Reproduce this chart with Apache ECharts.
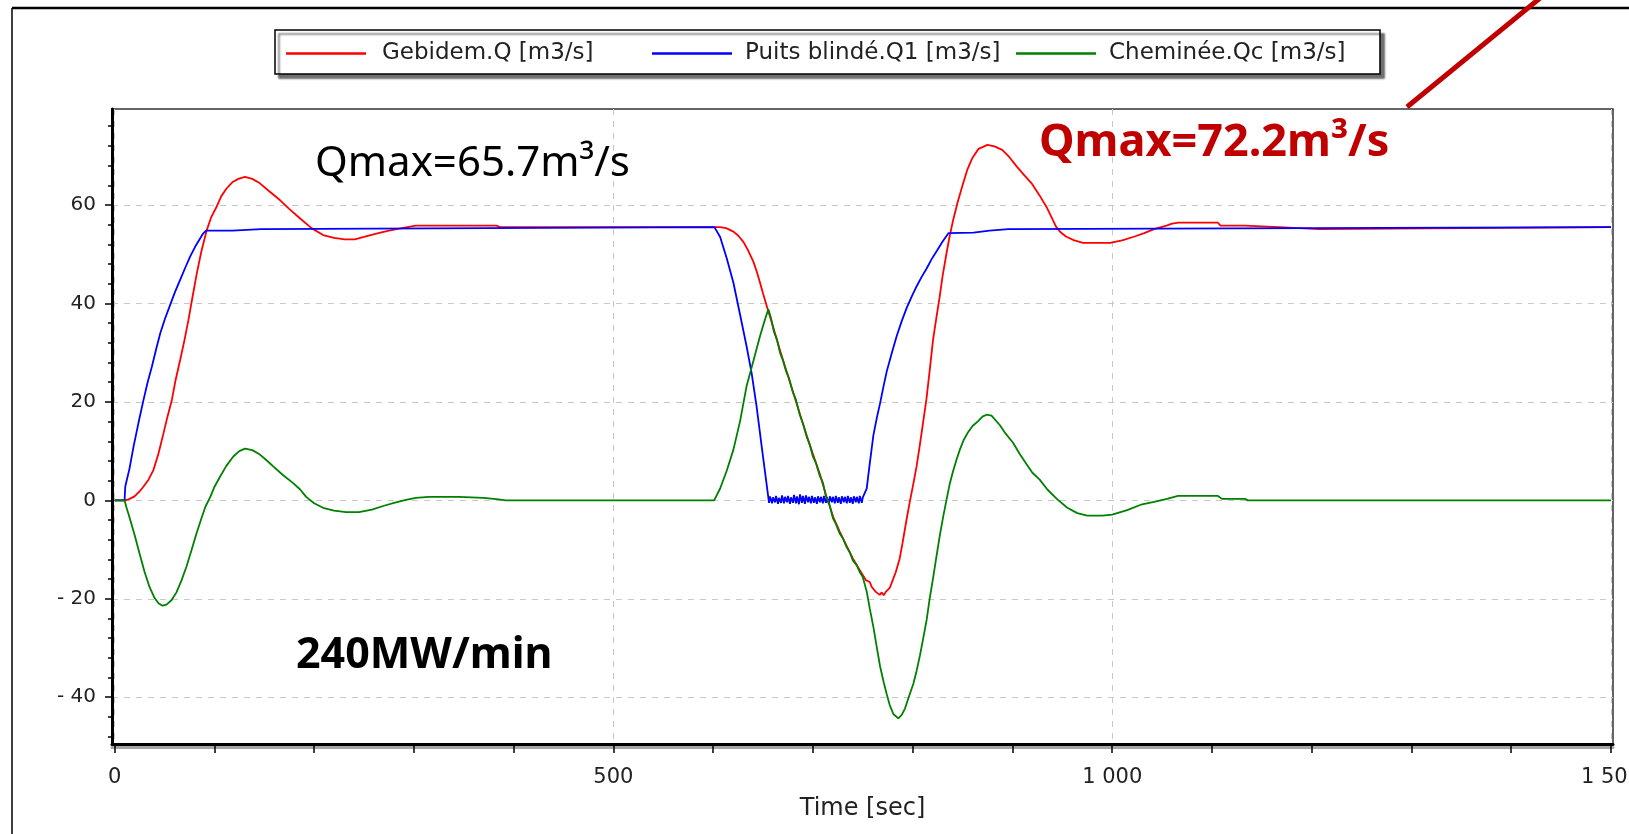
<!DOCTYPE html>
<html>
<head>
<meta charset="utf-8">
<title>Gebidem / Puits blindé / Cheminée</title>
<script src="https://cdn.jsdelivr.net/npm/echarts@6/dist/echarts.min.js"></script>
<style>
  html, body { margin: 0; padding: 0; background: #fff; overflow: hidden; }
  /* the drawing is a little wider than the window so the last time label runs off the edge */
  #chart { width: 1680px; height: 834px; }
</style>
</head>
<body>
<div id="chart"></div>
<script>
// Flow time histories, [time in s, flow in m3/s]
const gebidemQ = [
  [0,0],[10,0],[14,0.2],[20,0.8],[25,1.8],[29,2.8],[34,4.2],[39,6.2],[44,9.5],[49,13.6],[53,17],
  [57.4,20.4],[61,24.3],[65.7,28.5],[70,32.5],[74,36.6],[78,41.2],[82.4,46.1],[87,50.6],[92.4,54.9],
  [97,57.6],[102.4,59.7],[107,61.8],[112.4,63.4],[118,64.6],[124,65.3],[130.7,65.7],[138,65.3],
  [145.7,64.4],[155,62.8],[165.7,61.0],[175,59.2],[185.7,57.3],[197.4,55.3],[209,53.9],[220,53.3],
  [230.7,53.0],[240.7,53.0],[250,53.5],[262.4,54.2],[275,54.8],[290.7,55.4],[302,55.8],[383,55.8],
  [386,55.5],[601,55.5],[607,55.5],[613,55.3],[620.3,54.6],[625,53.8],[630.3,52.5],[635,50.8],
  [640.3,48.5],[644,46.3],[647,44.2],[650,42],[653.7,39.5],[660,35.3],[667,30.5],[673,26.6],
  [680.4,21.8],[687,17.5],[693.7,13.2],[700,9.4],[707,5.3],[713,1.2],[720.4,-3.4],[727,-6.4],
  [733.7,-9.2],[740,-11.8],[747,-14.2],[753,-16.2],[757,-16.6],[759,-17.6],[761,-17.4],[763,-18.6],
  [765,-18.2],[767,-19.2],[769,-18.7],[771,-19.3],[773,-18.6],[775,-18.9],[777,-17.8],[780,-16.2],
  [783,-14.6],[787,-11.8],[790,-8.5],[793.7,-4.1],[797,-0.4],[800.4,3.1],[804,7],[807,11.0],
  [810,15.2],[813.7,20.4],[817,26.3],[820.4,32.6],[824,37.4],[827,41.3],[830,45.6],[834,50.3],
  [837,53.6],[840.4,56.8],[845,60.5],[850,64],[855,67.3],[860,69.6],[866,71.4],[875,72.2],
  [882,71.9],[889.7,71.2],[897,69.7],[904.4,67.8],[912,66],[919.2,64.4],[927,62],[933.9,59.7],
  [939,57.6],[943.7,55.6],[948,54.5],[953.6,53.6],[962,52.8],[970.8,52.3],[998,52.3],[1010,52.8],
  [1022.4,53.6],[1032,54.3],[1042,55.1],[1054.4,55.8],[1060,56.2],[1066.6,56.4],[1106,56.4],
  [1108.5,55.8],[1133,55.8],[1135,55.5],[1167,55.5],[1168,55.1],[1207,55.1],[1208,55.5],[1500,55.5]
];

const puitsBlindeQ1 = [
  [0,0],[10,0],[10.7,2.8],[15,6.5],[19,10.9],[24,15.8],[29,20.4],[33,23.9],[37.4,27.2],[41.5,30.6],
  [45.7,33.9],[50.5,36.9],[55.7,39.7],[60.7,42.4],[65.7,44.8],[70.7,47.2],[75.7,49.5],[80.7,51.5],
  [85.7,53.2],[88.7,54.2],[91.7,54.8],[118,54.8],[119,55.1],[147,55.1],[148,55.5],[601.3,55.5],
  [607,53.5],[613.6,49.2],[620.3,44.2],[627,37.7],[633.6,31.2],[638.6,25.8],[643.6,19.0],
  [648.6,11.0],[653.7,3.1],[656,-0.5],[657,0.8],[659,-0.6],[660,0.6],[662,-0.4],[663,0.9],
  [665,-0.7],[666,0.5],[668,-0.5],[669,1.0],[671,-0.6],[672,0.7],[674,-0.4],[675,0.9],[677,-0.7],
  [678,0.6],[680,-0.5],[681,1.1],[683,-0.6],[684,0.8],[686,-0.8],[687,1.2],[689,-0.5],[690,0.9],
  [692,-0.7],[693,1.0],[695,-0.4],[696,0.7],[698,-0.6],[699,0.9],[701,-0.5],[702,0.6],[704,-0.7],
  [705,0.8],[707,-0.4],[708,0.7],[710,-0.6],[711,0.9],[713,-0.5],[714,0.6],[716,-0.7],[717,0.8],
  [719,-0.4],[720,0.7],[722,-0.6],[723,0.9],[725,-0.5],[726,0.6],[728,-0.7],[729,0.8],[731,-0.4],
  [732,0.7],[734,-0.6],[735,0.9],[737,-0.5],[738,0.6],[740,-0.7],[741,0.8],[743,-0.4],[744,0.7],
  [746,-0.6],[747,0.9],[749,-0.5],[750,0.6],[751.5,0.3],[753.9,2.4],[757,7.5],[760.6,13.2],
  [764,16.7],[767.3,19.7],[770.6,23],[774,26.2],[779,29.9],[784,33.4],[789,36.4],[794,39.1],
  [799,41.4],[804,43.5],[809,45.4],[814,47.1],[819,49],[824.3,50.7],[830,52.6],[836,54.3],
  [861,54.4],[862,54.8],[877,54.8],[878,55.1],[896,55.1],[897,55.5],[1500,55.5]
];

const chemineeQc = [
  [0,0],[10,0],[12,-1.5],[15,-3.5],[20,-7],[25,-10.8],[30,-14.5],[35,-17.6],[40,-19.8],[44,-20.9],
  [48,-21.4],[52,-21.2],[57,-20.3],[62,-18.7],[67,-16.3],[72,-13.5],[77,-10.2],[82,-6.8],[87,-3.7],
  [91,-1.3],[95.7,0.6],[100,2.7],[105.7,4.8],[112,7],[119,8.9],[125,10],[130.7,10.5],[138,10.2],
  [145.7,9.3],[152,8.2],[159,6.9],[169,5.1],[179,3.5],[186,2.2],[192,0.7],[200,-0.6],[210,-1.6],
  [220,-2.1],[232,-2.4],[245,-2.4],[258,-1.9],[270,-1.1],[282,-0.4],[292,0.1],[302,0.5],[315,0.7],
  [345,0.7],[370,0.5],[385,0.2],[392,0],[601,0],[607,2.4],[613.6,6.0],[620.3,10.3],[627,16.1],
  [633.6,23.3],[640.3,28.3],[647,33.4],[652,36.8],[655.3,38.8],[658,37.0],[661,34.2],[664,32.6],
  [667,30.0],[670,28.4],[673,26.3],[676,24.8],[680,21.9],[683,20.4],[687,17.3],[690,15.6],
  [694,12.8],[697,11.2],[700,8.9],[703,7.6],[707,4.9],[710,3.6],[713,0.8],[716,-0.4],[720,-3.6],
  [723,-4.8],[727,-6.8],[730,-7.7],[734,-9.6],[737,-10.6],[740,-12.2],[744,-13.2],[747,-14.6],
  [750,-15.6],[753.9,-18.5],[757,-22],[760.6,-25.7],[764,-29.8],[767.3,-33.7],[771,-37],
  [774,-39.4],[777,-41.6],[780.6,-43.4],[785.6,-44.3],[789,-43.6],[792.3,-42.3],[796,-40],
  [800.6,-37.3],[804,-34.6],[807.3,-31.5],[810.6,-28],[814,-24.3],[817,-20],[820.6,-15.6],
  [824,-11.2],[827.3,-7.0],[830.6,-3.3],[834,0.2],[837,3.2],[840.6,6.0],[844,8.3],[847.3,10.3],
  [851,12.2],[855.7,13.9],[860,15.1],[865.6,16.1],[870,17],[874,17.4],[879,17.2],[887.3,15.3],
  [893,13.6],[900.6,11.7],[907,9.5],[914,7.4],[920,5.6],[927.3,4.2],[935,2.2],[945,0.2],
  [955,-1.5],[965,-2.6],[975,-3.1],[990,-3.1],[1000,-2.9],[1015,-2.0],[1030,-0.8],[1042,-0.3],
  [1055,0.3],[1066,0.9],[1106,0.9],[1110,0.3],[1133,0.3],[1136,0],[1500,0]
];

const seriesNames = ['Gebidem.Q [m3/s]', 'Puits blindé.Q1 [m3/s]', 'Cheminée.Qc [m3/s]'];
const seriesColors = ['#ff0000', '#0000ff', '#008000'];

// Axis extents and tick positions
const timeRange = [-2.6, 1502];
const flowRange = [-49.5, 79.5];
const timeLabelTicks = [0, 500, 1000, 1500];
const timeMinorTicks = [0,100,200,300,400,500,600,700,800,900,1000,1100,1200,1300,1400,1500];
const flowLabelTicks = [-40, -20, 0, 20, 40, 60];
const flowMinorTicks = [-48,-44,-40,-36,-32,-28,-24,-20,-16,-12,-8,-4,0,4,8,12,16,20,24,28,32,36,40,44,48,52,56,60,64,68,72,76];

const axisFont = 'DejaVu Sans';
const chart = echarts.init(document.getElementById('chart'), null, { renderer: 'canvas' });

const fmtTime = v => String(v).replace(/\B(?=(\d{3})+(?!\d))/g, ' ');
const fmtFlow = v => (v < 0 ? '- ' + (-v) : String(v));

const gridDash = { color: '#c8c8c8', type: [6, 6], width: 1 };

// legend entries keep fixed slot widths so the three entries sit where they belong
const legendSlots = [270, 271, 243];
const slotStyle = (w, padLeft) => ({
  width: w, padding: [0, 0, 0, padLeft], backgroundColor: '#fff',
  fontFamily: axisFont, fontSize: 23, color: '#222'
});

chart.setOption({
  animation: false,
  backgroundColor: '#ffffff',
  grid: {
    left: 112, right: 67, top: 109, bottom: 90,
    containLabel: false, outerBoundsMode: 'none',
    show: true, borderColor: '#333', borderWidth: 1.5, backgroundColor: '#fff'
  },
  legend: {
    left: 275, top: 30,
    padding: [12, 28, 9, 11],
    icon: 'rect',
    itemWidth: 80, itemHeight: 2.5, itemGap: 0,
    selectedMode: false,
    backgroundColor: '#fff',
    borderColor: '#000', borderWidth: 1.5,
    shadowColor: 'rgba(0,0,0,0.55)', shadowBlur: 2, shadowOffsetX: 4, shadowOffsetY: 4,
    formatter: name => '{s' + seriesNames.indexOf(name) + '|' + name + '}',
    textStyle: {
      fontFamily: axisFont, fontSize: 23, color: '#222',
      rich: {
        s0: slotStyle(legendSlots[0], 11),
        s1: slotStyle(legendSlots[1], 8),
        s2: slotStyle(legendSlots[2], 8)
      }
    },
    data: seriesNames
  },
  xAxis: [
    {
      type: 'value', min: timeRange[0], max: timeRange[1],
      name: 'Time [sec]', nameLocation: 'middle', nameGap: 53,
      nameTextStyle: { fontFamily: axisFont, fontSize: 24, color: '#222' },
      axisLine: { show: true, onZero: false, lineStyle: { color: '#000', width: 3, shadowColor: 'rgba(0,0,0,0.35)', shadowOffsetY: 3 } },
      axisTick: { show: true, length: 9, customValues: timeLabelTicks, lineStyle: { color: '#000', width: 1.5 } },
      axisLabel: { customValues: timeLabelTicks, formatter: fmtTime, margin: 23, fontFamily: axisFont, fontSize: 21, color: '#222' },
      splitLine: { show: true, lineStyle: gridDash }
    },
    {
      type: 'value', min: timeRange[0], max: timeRange[1], position: 'bottom',
      axisLine: { show: false, onZero: false },
      axisTick: { show: true, length: 9, customValues: timeMinorTicks, lineStyle: { color: '#000', width: 1.5 } },
      axisLabel: { show: false },
      splitLine: { show: false }
    }
  ],
  yAxis: [
    {
      type: 'value', min: flowRange[0], max: flowRange[1],
      axisLine: { show: true, onZero: false, lineStyle: { color: '#000', width: 3 } },
      axisTick: { show: true, length: 7, customValues: flowLabelTicks, lineStyle: { color: '#000', width: 1.5 } },
      axisLabel: { customValues: flowLabelTicks, formatter: fmtFlow, margin: 16, fontFamily: axisFont, fontSize: 20, color: '#222' },
      splitLine: { show: true, lineStyle: gridDash }
    },
    {
      type: 'value', min: flowRange[0], max: flowRange[1], position: 'left',
      axisLine: { show: false, onZero: false },
      axisTick: { show: true, length: 4, customValues: flowMinorTicks, lineStyle: { color: '#000', width: 1.5 } },
      axisLabel: { show: false },
      splitLine: { show: false }
    }
  ],
  series: [
    { name: seriesNames[0], type: 'line', data: gebidemQ, showSymbol: false, symbol: 'none',
      lineStyle: { color: seriesColors[0], width: 1.8 }, itemStyle: { color: seriesColors[0] }, z: 3 },
    { name: seriesNames[1], type: 'line', data: puitsBlindeQ1, showSymbol: false, symbol: 'none',
      lineStyle: { color: seriesColors[1], width: 1.8 }, itemStyle: { color: seriesColors[1] }, z: 4 },
    { name: seriesNames[2], type: 'line', data: chemineeQc, showSymbol: false, symbol: 'none',
      lineStyle: { color: seriesColors[2], width: 1.8 }, itemStyle: { color: seriesColors[2] }, z: 5 }
  ],
  graphic: [
    // outer frame (top and left edges)
    { type: 'line', shape: { x1: 12, y1: 8, x2: 1680, y2: 8 }, style: { stroke: '#000', lineWidth: 2.5 }, z: 10 },
    { type: 'line', shape: { x1: 12, y1: 8, x2: 12, y2: 834 }, style: { stroke: '#000', lineWidth: 1.5 }, z: 10 },
    // pointer line from the plot to the upper right
    { type: 'line', shape: { x1: 1407, y1: 107, x2: 1545, y2: -6 }, style: { stroke: '#c00000', lineWidth: 5 }, z: 20 },
    { type: 'text', left: 315, top: 143, z: 20,
      style: { text: 'Qmax=65.7m³/s', font: '42px "Noto Sans"', fill: '#000' } },
    { type: 'text', left: 1039, top: 121, z: 20,
      style: { text: 'Qmax=72.2m³/s', font: 'bold 45px "Noto Sans"', fill: '#c00000' } },
    { type: 'text', left: 296, top: 634, z: 20,
      style: { text: '240MW/min', font: 'bold 43px "Noto Sans"', fill: '#000' } }
  ]
});
</script>
</body>
</html>
